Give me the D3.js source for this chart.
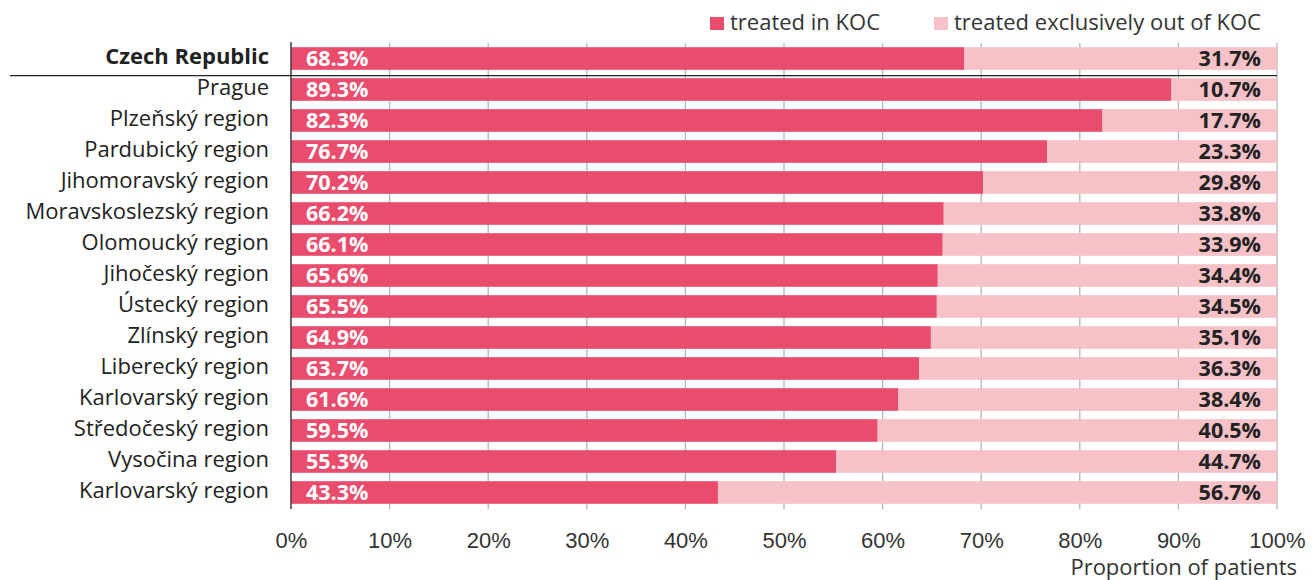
<!DOCTYPE html>
<html>
<head>
<meta charset="utf-8">
<script src="https://cdn.jsdelivr.net/npm/d3@7"></script>
<style>
  html, body { margin: 0; padding: 0; background: #fff; }
  svg { display: block; font-family: "Open Sans", "Noto Sans", sans-serif; }
</style>
</head>
<body>
<svg id="chart" width="1314" height="580"></svg>
<script>
// Regions of the Czech Republic (first row is the national total)
const regions = [
  "Czech Republic", "Prague", "Plzeňský region", "Pardubický region",
  "Jihomoravský region", "Moravskoslezský region", "Olomoucký region",
  "Jihočeský region", "Ústecký region", "Zlínský region", "Liberecký region",
  "Karlovarský region", "Středočeský region", "Vysočina region", "Karlovarský region"
];
// Share of patients treated in a KOC (%)
const treatedInKOC = [68.3, 89.3, 82.3, 76.7, 70.2, 66.2, 66.1, 65.6, 65.5, 64.9, 63.7, 61.6, 59.5, 55.3, 43.3];
// Share of patients treated exclusively outside a KOC (%)
const treatedOutKOC = [31.7, 10.7, 17.7, 23.3, 29.8, 33.8, 33.9, 34.4, 34.5, 35.1, 36.3, 38.4, 40.5, 44.7, 56.7];
const xTicks = [0, 10, 20, 30, 40, 50, 60, 70, 80, 90, 100];
const seriesNames = ["treated in KOC", "treated exclusively out of KOC"];

const colorIn = "#e94c6d";
const colorOut = "#f6c1c7";

const svg = d3.select("#chart");
const margin = { left: 291, right: 37, top: 43, bottom: 72 };
const W = 1314, H = 580;

const rows = regions.map((r, i) => ({ key: i, name: r, a: treatedInKOC[i], b: treatedOutKOC[i] }));

const x = d3.scaleLinear().domain([0, 100]).range([margin.left, W - margin.right]);
const y = d3.scaleBand().domain(rows.map(d => d.key))
  .range([margin.top, H - margin.bottom]).paddingInner(0.27).paddingOuter(0.135);

// grid lines (extend slightly below plot as tick marks)
svg.append("g")
  .selectAll("line").data(xTicks).join("line")
  .attr("x1", d => x(d)).attr("x2", d => x(d))
  .attr("y1", margin.top).attr("y2", H - margin.bottom + 1)
  .attr("stroke", "#b4b4b4").attr("stroke-width", 1.3);

// stacked bars
const bars = svg.append("g");
bars.selectAll("rect.in").data(rows).join("rect")
  .attr("class", "in")
  .attr("x", x(0)).attr("y", d => y(d.key))
  .attr("width", d => x(d.a) - x(0)).attr("height", y.bandwidth())
  .attr("fill", colorIn);
bars.selectAll("rect.out").data(rows).join("rect")
  .attr("class", "out")
  .attr("x", d => x(d.a)).attr("y", d => y(d.key))
  .attr("width", d => x(d.a + d.b) - x(d.a)).attr("height", y.bandwidth())
  .attr("fill", colorOut);

// value labels
const fmt = v => v.toFixed(1) + "%";
svg.append("g").selectAll("text").data(rows).join("text")
  .attr("x", x(0) + 15).attr("y", d => y(d.key) + y.bandwidth() / 2)
  .attr("dy", "0.36em")
  .attr("fill", "#fff").attr("font-weight", 700).attr("font-size", 21.5)
  .text(d => fmt(d.a));
svg.append("g").selectAll("text").data(rows).join("text")
  .attr("x", x(100) - 16).attr("y", d => y(d.key) + y.bandwidth() / 2)
  .attr("dy", "0.36em").attr("text-anchor", "end")
  .attr("fill", "#222").attr("font-weight", 700).attr("font-size", 21.5)
  .text(d => fmt(d.b));

// category labels
svg.append("g").selectAll("text").data(rows).join("text")
  .attr("x", 269).attr("y", d => y(d.key) + y.bandwidth() / 2 - 2)
  .attr("dy", "0.36em").attr("text-anchor", "end")
  .attr("fill", "#222").attr("font-size", 22)
  .attr("font-weight", (d, i) => i === 0 ? 700 : 400)
  .text(d => d.name);

// y axis line
svg.append("line")
  .attr("x1", x(0)).attr("x2", x(0))
  .attr("y1", margin.top - 1).attr("y2", H - margin.bottom + 1)
  .attr("stroke", "#333").attr("stroke-width", 1.3);

// separator below national total
const sepY = y(1) - 2.5;
svg.append("line")
  .attr("x1", 10).attr("x2", x(100))
  .attr("y1", sepY).attr("y2", sepY)
  .attr("stroke", "#222").attr("stroke-width", 1.3);

// x axis tick labels
const xAxis = d3.axisBottom(x).tickValues(xTicks).tickFormat(d => d + "%").tickSize(0).tickPadding(0);
const gx = svg.append("g").attr("transform", `translate(0,${H - margin.bottom + 32})`).call(xAxis);
gx.select(".domain").remove();
gx.selectAll("text").attr("font-family", null).attr("font-size", 22).attr("fill", "#333").attr("dy", "0.36em").attr("y", 0);

svg.append("text")
  .attr("x", 1297).attr("y", 567).attr("dy", "0.36em").attr("text-anchor", "end")
  .attr("font-size", 22).attr("fill", "#333")
  .text("Proportion of patients");

// legend
const legend = svg.append("g");
const legendX = [710, 934];
[colorIn, colorOut].forEach((c, i) => {
  legend.append("rect").attr("x", legendX[i]).attr("y", 17).attr("width", 14).attr("height", 13).attr("fill", c);
  legend.append("text").attr("x", legendX[i] + 20).attr("y", 22).attr("dy", "0.36em")
    .attr("font-size", 22).attr("fill", "#333").text(seriesNames[i]);
});
</script>
</body>
</html>
